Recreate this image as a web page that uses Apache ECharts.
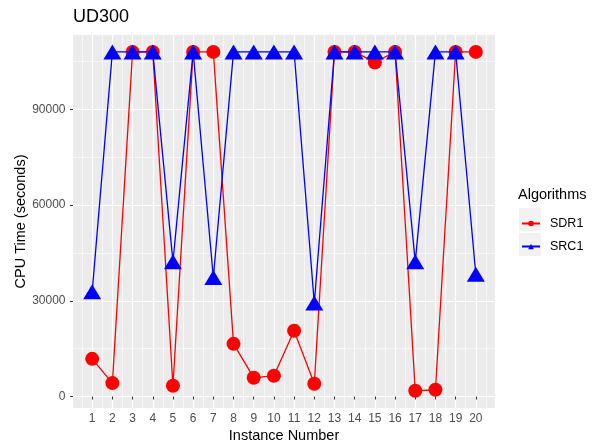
<!DOCTYPE html>
<html><head><meta charset="utf-8">
<script src="https://cdn.jsdelivr.net/npm/echarts@6/dist/echarts.min.js"></script>
<style>html,body{margin:0;padding:0;background:#fff}#c{width:592px;height:446px}</style>
</head><body><div id="c"></div>
<script>
const instances = [1,2,3,4,5,6,7,8,9,10,11,12,13,14,15,16,17,18,19,20];
const sdr1 = [11800,4200,108000,108000,3350,108000,108000,16500,5900,6500,20600,4000,108000,108000,104700,108000,1800,2100,108000,108000];
const src1 = [32800,108000,108000,108000,42200,108000,37300,108000,108000,108000,108000,29300,108000,108000,108000,108000,42200,108000,108000,38300];
const yMajor = [0,30000,60000,90000];
const yMinor = [-15000,15000,45000,75000,105000];
const xMinor = [0.5,1.5,2.5,3.5,4.5,5.5,6.5,7.5,8.5,9.5,10.5,11.5,12.5,13.5,14.5,15.5,16.5,17.5,18.5,19.5,20.5];

const font = 'Liberation Sans, Arial, sans-serif';
const chart = echarts.init(document.getElementById('c'), null, {renderer:'canvas'});
const xMin = 0.05, xMax = 20.95, yMin = -3600, yMax = 113300;
chart.setOption({
  animation:false,
  title:[
    {text:'UD300', left:73, top:8, padding:0, textStyle:{fontFamily:font, fontSize:18, fontWeight:'normal', color:'#000'}},
    {text:'Algorithms', left:518, top:187, padding:0, textStyle:{fontFamily:font, fontSize:14.5, fontWeight:'normal', color:'#000'}}
  ],
  grid:[{left:73, right:97, top:35, bottom:38, show:true, backgroundColor:'#EBEBEB', borderWidth:0, containLabel:false, outerBoundsMode:'none'}],
  legend:{
    orient:'vertical', left:521, top:217, padding:0, itemWidth:18, itemHeight:7, itemGap:10,
    textStyle:{fontFamily:font, fontSize:12.5, color:'#000', padding:[0,0,0,5]},
    data:['SDR1','SRC1']
  },
  graphic:[
    {type:'rect', left:519, top:208, shape:{width:22, height:23}, style:{fill:'#F2F2F2'}, z:-1},
    {type:'rect', left:519, top:233, shape:{width:22, height:23}, style:{fill:'#F2F2F2'}, z:-1}
  ],
  xAxis:[
    {type:'value', min:xMin, max:xMax, name:'Instance Number', nameLocation:'middle', nameGap:20, nameMoveOverlap:false,
     nameTextStyle:{fontFamily:font, fontSize:14.5, color:'#000'},
     axisLine:{show:false},
     axisTick:{show:true, length:3, lineStyle:{color:'#333', width:1}, customValues:instances},
     axisLabel:{customValues:instances, fontFamily:font, fontSize:12, color:'#4D4D4D', margin:5, formatter:v=>String(v)},
     splitLine:{show:true, lineStyle:{color:'#fff', width:1.2}}, z:1},
    {type:'value', min:xMin, max:xMax, position:'bottom',
     axisLine:{show:false}, axisTick:{show:false, customValues:xMinor}, axisLabel:{show:false},
     splitLine:{show:true, lineStyle:{color:'#fff', width:0.6}}, z:0}
  ],
  yAxis:[
    {type:'value', min:yMin, max:yMax, name:'CPU Time (seconds)', nameLocation:'middle', nameGap:45, nameMoveOverlap:false,
     nameTextStyle:{fontFamily:font, fontSize:14.5, color:'#000'},
     axisLine:{show:false},
     axisTick:{show:true, length:3, lineStyle:{color:'#333', width:1}, customValues:yMajor},
     axisLabel:{customValues:yMajor, fontFamily:font, fontSize:12, color:'#4D4D4D', margin:7.5, formatter:v=>String(v)},
     splitLine:{show:true, lineStyle:{color:'#fff', width:1.2}}},
    {type:'value', min:yMin, max:yMax, position:'left',
     axisLine:{show:false}, axisTick:{show:false, customValues:yMinor}, axisLabel:{show:false},
     splitLine:{show:true, lineStyle:{color:'#fff', width:0.6}}}
  ],
  series:[
    {name:'SDR1', type:'line', xAxisIndex:0, yAxisIndex:0,
     data:instances.map((x,i)=>[x,sdr1[i]]),
     symbol:'circle', symbolSize:14, showAllSymbol:true,
     lineStyle:{color:'#FF0000', width:1.3}, itemStyle:{color:'#FF0000'}, z:2},
    {name:'SRC1', type:'line', xAxisIndex:0, yAxisIndex:0,
     data:instances.map((x,i)=>[x,src1[i]]),
     symbol:'triangle', symbolSize:[18,15], showAllSymbol:true,
     lineStyle:{color:'#0000FF', width:1.3}, itemStyle:{color:'#0000FF'}, z:3}
  ]
});
</script></body></html>
